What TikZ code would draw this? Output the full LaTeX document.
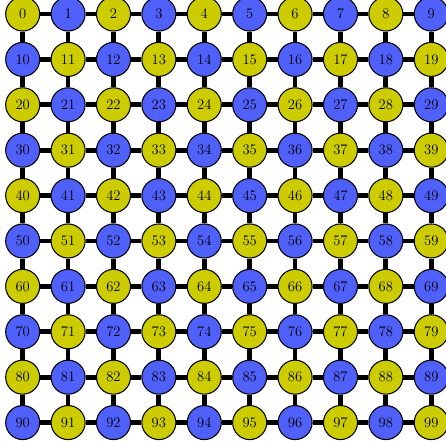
\documentclass[tikz,border=0pt]{standalone}
\usepackage{tikz}
\usetikzlibrary{positioning}

\definecolor{cellyellow}{RGB}{204,204,0}
\definecolor{cellblue}{RGB}{80,96,250}

\begin{document}
\begin{tikzpicture}[
    every node/.style={font=\fontsize{11}{13}\selectfont},
    site/.style={draw, circle, line width=0.8pt, minimum size=0.9cm, inner sep=0pt},
    even/.style={site, fill=cellyellow},
    odd/.style={site, fill=cellblue},
    bond/.style={line width=3.6pt}
]
\useasboundingbox (-0.6,0.37) rectangle (11.19,-11.31);
% lattice sites
\foreach \r in {0,...,9}{
  \foreach \c in {0,...,9}{
    \pgfmathtruncatemacro{\k}{10*\r+\c}
    \pgfmathtruncatemacro{\p}{mod(\r+\c,2)}
    \ifnum\p=0
      \node[even] (n\k) at (1.2*\c,-1.2*\r) {\k};
    \else
      \node[odd] (n\k) at (1.2*\c,-1.2*\r) {\k};
    \fi
  }
}
% horizontal bonds
\foreach \r in {0,...,9}{
  \foreach \c in {0,...,8}{
    \pgfmathtruncatemacro{\a}{10*\r+\c}
    \pgfmathtruncatemacro{\b}{\a+1}
    \draw[bond] (n\a) -- (n\b);
  }
}
% vertical bonds
\foreach \r in {0,...,8}{
  \foreach \c in {0,...,9}{
    \pgfmathtruncatemacro{\a}{10*\r+\c}
    \pgfmathtruncatemacro{\b}{\a+10}
    \draw[bond] (n\a) -- (n\b);
  }
}
\end{tikzpicture}
\end{document}
